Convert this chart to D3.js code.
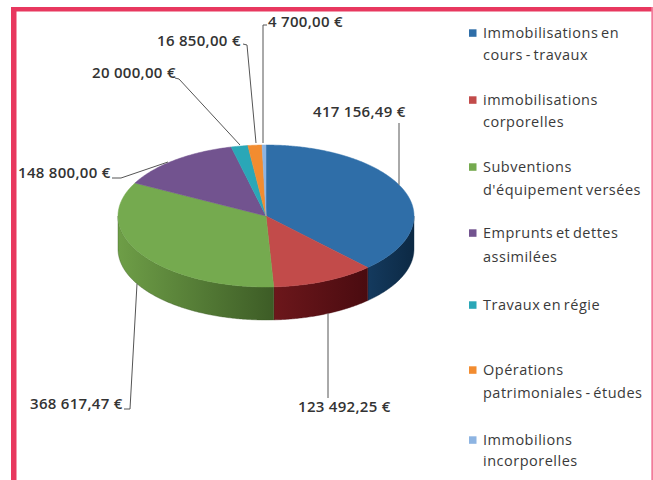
<!DOCTYPE html>
<html><head><meta charset="utf-8">
<script src="https://cdn.jsdelivr.net/npm/d3@7"></script>
<style>html,body{margin:0;padding:0;background:#fff;} svg{display:block;}</style>
</head><body>
<svg id="c" width="653" height="480"></svg>
<script>
// ---- data ----
const legendLines = [
  ["Immobilisations en", "cours - travaux"],
  ["immobilisations", "corporelles"],
  ["Subventions", "d'équipement versées"],
  ["Emprunts et dettes", "assimilées"],
  ["Travaux en régie"],
  ["Opérations", "patrimoniales - études"],
  ["Immobilions", "incorporelles"]
];
const categories = legendLines.map(l => l.join(" "));
const values = [417156.49, 123492.25, 368617.47, 148800.00, 20000.00, 16850.00, 4700.00];

// ---- styles ----
const topColors  = ["#2f6ea8", "#c24b4a", "#75aa4f", "#72538f", "#2aa7b7", "#f28c30", "#8db4e2"];
const sideColors = [["#143a5e","#0c2944"], ["#6c171b","#4a0b10"], ["#6e9e47","#3d5c26"],
                    ["#4a3560","#3a284d"], ["#1a6f7a","#145a63"], ["#a85c1e","#8a4a16"], ["#5d7ea6","#4d6a8c"]];

// ---- layout ----
const W = 653, H = 480;
const cx = 266, cy = 216, rx = 148, ry = 71, depth = 33;
const labelLayout = [
  {x: 313, y: 112, line: [[399,123],[399,"edgeTop"]]},
  {x: 298, y: 407, line: [[328,"edgeBottom"],[328,398]]},
  {x: 30,  y: 404, line: [[124,409],[130,409],[137,"edgeBottom"]]},
  {x: 18,  y: 173, line: [[112,178],[121,178],[168,162]]},
  {x: 92,  y: 73,  line: [[175,78],[179,79],[240,145]]},
  {x: 157, y: 41,  line: [[243,44],[247,45],[256,143]]},
  {x: 268, y: 22,  line: [[267,25],[263,25],[263,143]]}
];
const legendX = 483, markerX = 469;
const legendY = [[33,55],[100,122],[167,190],[233,257],[305],[370,393],[440,461]];

const fr = d3.formatLocale({decimal: ",", thousands: " ", grouping: [3], currency: ["", " €"]});
const fmt = v => fr.format(",.2f")(v) + " €";

const svg = d3.select("#c");

// border
svg.append("rect").attr("x", 11).attr("y", 7).attr("width", 642).attr("height", 4.5).attr("fill", "#e8385f");
svg.append("rect").attr("x", 11).attr("y", 7).attr("width", 5.5).attr("height", 473).attr("fill", "#e8385f");
svg.append("rect").attr("x", 651.3).attr("y", 7).attr("width", 1.7).attr("height", 473).attr("fill", "#f27b9b");

const pie = d3.pie().sort(null).value(d => d)(values);
const color = d3.scaleOrdinal().domain(d3.range(values.length)).range(topColors);

const pt = (a, dy = 0) => [cx + rx * Math.sin(a), cy - ry * Math.cos(a) + dy];
function arcPts(a0, a1, dy = 0) {
  const n = Math.max(2, Math.ceil(Math.abs(a1 - a0) / 0.01));
  return d3.range(n + 1).map(i => pt(a0 + (a1 - a0) * i / n, dy));
}
const line = d3.line();
const defs = svg.append("defs");

// sides (front half only)
const gSide = svg.append("g");
pie.forEach((p, i) => {
  const s = Math.max(p.startAngle, Math.PI / 2), e = Math.min(p.endAngle, 3 * Math.PI / 2);
  if (e <= s) return;
  const top = arcPts(s, e), bot = arcPts(e, s, depth);
  const pts = top.concat(bot);
  const xs = pts.map(q => q[0]);
  const gid = "sg" + i;
  const lg = defs.append("linearGradient").attr("id", gid).attr("gradientUnits", "userSpaceOnUse")
    .attr("x1", d3.min(xs)).attr("x2", d3.max(xs)).attr("y1", 0).attr("y2", 0);
  lg.append("stop").attr("offset", 0).attr("stop-color", sideColors[i][0]);
  lg.append("stop").attr("offset", 1).attr("stop-color", sideColors[i][1]);
  gSide.append("path").attr("d", line(pts) + "Z").attr("fill", `url(#${gid})`)
    .attr("stroke", sideColors[i][1]).attr("stroke-width", 0.4);
});

// tops
const gTop = svg.append("g");
pie.forEach((p, i) => {
  const pts = [[cx, cy]].concat(arcPts(p.startAngle, p.endAngle));
  gTop.append("path").attr("d", line(pts) + "Z").attr("fill", color(i))
    .attr("stroke", color(i)).attr("stroke-width", 0.5);
});

// leader lines + labels
function edgeY(x, which) {
  const t = (x - cx) / rx;
  const h = ry * Math.sqrt(Math.max(0, 1 - t * t));
  return which === "edgeTop" ? cy - h : cy + h + depth;
}
const gLab = svg.append("g");
pie.forEach((p, i) => {
  const L = labelLayout[i];
  const pts = L.line.map(([x, y]) => [x, typeof y === "string" ? edgeY(x, y) : y]);
  gLab.append("path").attr("d", line(pts)).attr("fill", "none").attr("stroke", "#555").attr("stroke-width", 1);
  gLab.append("text").attr("x", L.x).attr("y", L.y).attr("dy", "0.36em")
    .attr("font-family", "'Open Sans', sans-serif").attr("font-size", 15).attr("font-weight", 600)
    .attr("letter-spacing", 0.3).attr("fill", "#333").text(fmt(p.data));
});

// legend
const gLeg = svg.append("g");
legendLines.forEach((lines, i) => {
  gLeg.append("rect").attr("x", markerX).attr("y", legendY[i][0] - 3.7).attr("width", 7.5).attr("height", 7.5)
    .attr("fill", color(i));
  lines.forEach((t, j) => {
    gLeg.append("text").attr("x", legendX).attr("y", legendY[i][j]).attr("dy", "0.36em")
      .attr("font-family", "'Open Sans', sans-serif").attr("font-size", 14.5).attr("font-weight", 500)
      .attr("letter-spacing", 0.5).attr("word-spacing", -1.5)
      .attr("fill", "#3a3a3a").text(t);
  });
});
</script>
</body></html>
